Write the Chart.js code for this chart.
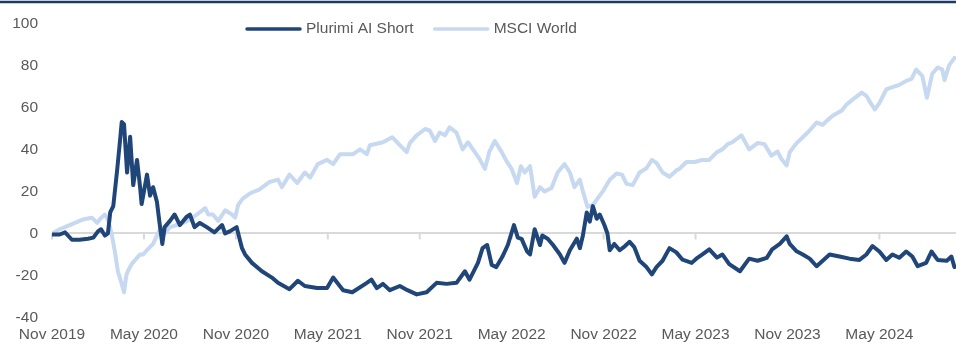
<!DOCTYPE html>
<html lang="en">
<head>
<meta charset="UTF-8">
<title>Plurimi AI Short vs MSCI World</title>
<script src="https://cdn.jsdelivr.net/npm/chart.js"></script>
<style>
  body {
    margin: 0;
    background: #fff;
    font-family: Arial, "Liberation Sans", sans-serif;
  }
  #wrap {
    position: relative;
    width: 956px;
    height: 344px;
  }
</style>
</head>
<body>
<div id="wrap">
  <canvas id="perfChart"></canvas>
</div>
<script>
// months since Nov 2019
const tickLabels = ['Nov 2019', 'May 2020', 'Nov 2020', 'May 2021', 'Nov 2021',
  'May 2022', 'Nov 2022', 'May 2023', 'Nov 2023', 'May 2024'];

const shortMonths = [0, 0.5, 0.85, 1.3, 1.8, 2.35, 2.7, 3.0, 3.2, 3.45, 3.65, 3.8, 4.0, 4.25, 4.45, 4.55, 4.7, 4.9,
  5.1, 5.3, 5.55, 5.75, 5.85, 6.2, 6.4, 6.6, 6.85, 7.0, 7.2, 7.35, 7.7, 8.0, 8.35, 8.8, 9.0, 9.3, 9.65,
  10.1, 10.6, 11.1, 11.3, 11.6, 12.05, 12.4, 12.6, 13.05, 13.7, 14.35, 14.75, 15.5, 16.05, 16.5, 17.3,
  17.95, 18.35, 19.0, 19.6, 20.55, 20.85, 21.2, 21.6, 22.05, 22.7, 23.2, 23.8, 24.45, 25.1, 25.75, 26.4,
  26.95, 27.25, 27.8, 28.1, 28.4, 28.7, 29.0, 29.4, 29.75, 30.15, 30.4, 30.65, 31.0, 31.2, 31.5, 31.85,
  32.0, 32.35, 32.7, 33.15, 33.45, 33.8, 34.25, 34.45, 34.65, 34.9, 35.1, 35.3, 35.55, 35.75, 36.05,
  36.25, 36.4, 36.7, 37.05, 37.4, 37.7, 38.0, 38.35, 38.8, 39.15, 39.45, 39.85, 40.3, 40.75, 41.15,
  41.75, 42.05, 42.45, 42.9, 43.4, 43.75, 44.2, 44.9, 45.5, 46.05, 46.65, 47.0, 47.5, 47.95, 48.15,
  48.6, 49.0, 49.45, 49.9, 50.3, 50.75, 51.4, 52.05, 52.7, 53.15, 53.55, 54.0, 54.45, 54.85, 55.3,
  55.75, 56.15, 56.5, 57.05, 57.4, 57.8, 58.4, 58.7, 58.9];
const shortValues = [-0.5, -0.5, 0.5, -3, -3, -2.5, -2, 1, 2, -1, 0, 10, 13, 30, 45, 53, 52, 29,
  46, 23, 35, 22, 14, 28, 18, 22, 15, 6, -5, 3, 6, 9, 4, 8, 9, 3, 5,
  3, 0.5, 4, 0, 1, 3, -7, -10, -14, -18, -21, -23.5, -26.5, -22.5, -25, -26,
  -26, -21, -27, -28, -23.5, -22, -26, -24, -27, -25, -27, -29, -28, -23.5, -24, -23.5,
  -18, -22, -14, -7, -5.5, -15, -16, -11, -5.5, 4, -2, -2.6, -8.5, -10, 2, -5.5,
  -1, -2.5, -5.5, -10, -14, -8, -2.5, -7, -1, 10, 5.6, 13, 7, 9, 4,
  0, -8, -5, -8, -6, -4, -6.5, -13, -16, -19.5, -16, -13, -7, -9, -12.5,
  -14, -12, -10, -7.6, -11.5, -10, -14.6, -18, -12, -13, -11.6, -7.6, -5, -1.4, -5,
  -8.5, -10, -12, -15.6, -13, -10, -11, -12, -12.6, -10, -6, -8.6, -12.6, -10, -11.6,
  -8.6, -11, -15.6, -14, -8.6, -12.6, -13, -11, -16];

const worldMonths = [0, 0.5, 1.15, 1.65, 2.0, 2.6, 2.95, 3.15, 3.45, 3.65, 3.9, 4.1, 4.3, 4.55, 4.7, 4.85,
  4.95, 5.2, 5.55, 5.75, 5.95, 6.25, 6.6, 6.85, 7.05, 7.35, 7.7, 8.15, 8.55, 9.0, 9.45, 10.0, 10.2,
  10.5, 10.85, 11.3, 11.75, 11.95, 12.15, 12.45, 12.9, 13.55, 14.2, 14.75, 15.0, 15.5, 16.0, 16.5,
  16.85, 17.35, 17.95, 18.35, 18.8, 19.65, 20.1, 20.55, 20.75, 21.6, 22.2, 22.7, 23.15, 23.35, 23.8,
  24.35, 24.65, 25.0, 25.3, 25.65, 25.95, 26.4, 26.8, 27.15, 27.6, 27.9, 28.25, 28.55, 28.9, 29.35,
  29.7, 30.0, 30.35, 30.6, 30.85, 31.2, 31.5, 31.85, 32.15, 32.6, 33.0, 33.45, 33.8, 34.1, 34.45,
  34.65, 34.95, 35.3, 35.6, 35.95, 36.4, 36.85, 37.2, 37.5, 37.9, 38.35, 38.8, 39.15, 39.45, 39.85,
  40.3, 40.75, 40.95, 41.4, 41.95, 42.45, 42.9, 43.4, 43.75, 44.1, 44.4, 45.0, 45.5, 46.05, 46.5,
  46.95, 47.35, 47.6, 47.95, 48.15, 48.6, 49.0, 49.45, 49.9, 50.3, 50.6, 50.95, 51.55, 51.85, 52.25,
  52.85, 53.15, 53.35, 53.7, 54.0, 54.45, 54.85, 55.3, 55.75, 56.1, 56.4, 56.8, 57.1, 57.45, 57.8,
  58.1, 58.25, 58.55, 58.9];
const worldValues = [0, 2, 4, 5.5, 6.6, 7.5, 5, 7, 9, 6.6, -0.5, -8.5, -18, -24, -28, -20,
  -18, -14.6, -11.6, -10, -10, -7.6, -5, -1, 2, 0, 3, 4, 5, 6.6, 9, 12, 9,
  9, 6, 11, 9, 7.5, 13.6, 16.6, 19, 21, 24.5, 25.6, 22, 28, 24, 29,
  26.6, 33, 35, 33, 37.7, 37.7, 40, 37.7, 42, 43.4, 45.8, 42, 38.7, 43, 46.7,
  49.7, 49, 44, 48, 46.7, 50.5, 48, 40, 43.4, 38.7, 35.5, 30.7, 39, 44, 38.7,
  34, 30.7, 24, 32, 29, 32, 17.5, 22, 20, 21.6, 29, 33, 29, 22, 25.6,
  20, 12.6, 13.6, 16.6, 20, 25.6, 28.5, 28, 23.6, 23, 29, 31, 35, 33.6, 29,
  27, 30, 30.7, 34, 34, 35, 35, 38.7, 40, 42.5, 43.4, 46.7, 40, 43, 42.5,
  37, 39, 35.5, 32.4, 38.7, 43, 45.8, 49, 52.8, 51.7, 53.8, 56, 58.5, 61.3, 63.7,
  67, 65.5, 63, 59, 62, 68.5, 69.6, 70.7, 72.6, 73.5, 78, 75, 64.6, 76, 79,
  78, 73, 80, 83.5];

const seriesNames = ['Plurimi AI Short', 'MSCI World'];
const seriesColors = ['#1F4579', '#C6D9F1'];

function toPoints(xs, ys) {
  return xs.map((x, i) => ({ x: x, y: ys[i] }));
}

const textColor = '#595959';
const fontFamily = 'Arial, "Liberation Sans", sans-serif';
const fontSize = 15.5;

// zero-line tick marks, top rule and the legend drawn inside the plot
const decorations = {
  id: 'decorations',
  beforeDatasetsDraw(chart) {
    const ctx = chart.ctx;
    const xs = chart.scales.x;
    const y0 = chart.scales.y.getPixelForValue(0);
    ctx.save();
    ctx.strokeStyle = '#D9D9D9';
    ctx.lineWidth = 2;
    xs.ticks.forEach(t => {
      const px = xs.getPixelForValue(t.value);
      ctx.beginPath();
      ctx.moveTo(px, y0);
      ctx.lineTo(px, y0 + 6);
      ctx.stroke();
    });
    ctx.restore();
  },
  afterDraw(chart) {
    const ctx = chart.ctx;
    ctx.save();
    ctx.strokeStyle = '#1F3864';
    ctx.lineWidth = 2.5;
    ctx.beginPath();
    ctx.moveTo(0, 2);
    ctx.lineTo(chart.width, 2);
    ctx.stroke();

    ctx.font = fontSize + 'px ' + fontFamily;
    ctx.textBaseline = 'middle';
    ctx.fillStyle = textColor;
    let x = 247;
    const y = 29;
    chart.data.datasets.forEach(ds => {
      ctx.strokeStyle = ds.borderColor;
      ctx.lineWidth = 3.5;
      ctx.lineCap = 'round';
      ctx.beginPath();
      ctx.moveTo(x, y);
      ctx.lineTo(x + 53, y);
      ctx.stroke();
      x += 59;
      ctx.fillText(ds.label, x, y);
      x += ctx.measureText(ds.label).width + 21;
    });
    ctx.restore();
  }
};

const ctx = document.getElementById('perfChart').getContext('2d');
new Chart(ctx, {
  type: 'line',
  data: {
    datasets: [
      {
        label: seriesNames[0],
        data: toPoints(shortMonths, shortValues),
        borderColor: seriesColors[0],
        backgroundColor: seriesColors[0],
        borderWidth: 4
      },
      {
        label: seriesNames[1],
        data: toPoints(worldMonths, worldValues),
        borderColor: seriesColors[1],
        backgroundColor: seriesColors[1],
        borderWidth: 4
      }
    ]
  },
  options: {
    responsive: true,
    maintainAspectRatio: false,
    animation: false,
    elements: {
      point: { radius: 0, hoverRadius: 0 },
      line: { tension: 0, borderJoinStyle: 'round', borderCapStyle: 'round' }
    },
    layout: { padding: { top: 16, right: 0, left: 0, bottom: 0 } },
    plugins: {
      legend: { display: false },
      tooltip: { enabled: false }
    },
    scales: {
      x: {
        type: 'linear',
        min: 0,
        max: 59,
        grid: { display: false, drawTicks: false },
        border: { display: false },
        ticks: {
          stepSize: 6,
          includeBounds: false,
          autoSkip: false,
          maxRotation: 0,
          padding: 8,
          color: textColor,
          font: { family: fontFamily, size: fontSize },
          callback: v => tickLabels[Math.round(v / 6)] || ''
        },
        afterFit: scale => { scale.height = 26.5; }
      },
      y: {
        min: -40,
        max: 100,
        grid: {
          drawTicks: false,
          lineWidth: 2,
          color: c => (c.tick && c.tick.value === 0) ? '#D9D9D9' : 'rgba(0,0,0,0)'
        },
        border: { display: false },
        ticks: {
          stepSize: 20,
          padding: 14,
          color: textColor,
          font: { family: fontFamily, size: fontSize }
        },
        afterFit: scale => { scale.width = 52; }
      }
    }
  },
  plugins: [decorations]
});
</script>
</body>
</html>
